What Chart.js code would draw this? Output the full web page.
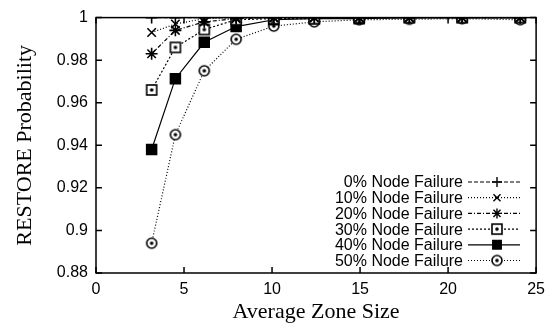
<!DOCTYPE html>
<html>
<head>
<meta charset="utf-8">
<script src="https://cdn.jsdelivr.net/npm/chart.js@4/dist/chart.umd.min.js"></script>
<style>
  html, body { margin: 0; padding: 0; background: #fff; }
  #wrap { width: 552px; height: 329px; }
</style>
</head>
<body>
<div id="wrap"><canvas id="restoreChart"></canvas></div>
<script>
'use strict'

// data
const zoneSizes = [3.16, 4.51, 6.15, 7.96, 10.1, 12.4, 14.95, 17.8, 20.8, 24.1];
const fail0  = [1, 1, 1, 1, 1, 1, 1, 1, 1, 1];
const fail10 = [0.993, 0.997, 0.9995, 1, 1, 1, 1, 1, 1, 1];
const fail20 = [0.983, 0.994, 0.998, 0.9995, 1, 1, 1, 1, 1, 1];
const fail30 = [0.966, 0.986, 0.9944, 0.999, 0.9995, 0.9995, 1, 1, 1, 1];
const fail40 = [0.938, 0.9713, 0.9884, 0.9958, 0.999, 0.9995, 0.9995, 1, 1, 1];
const fail50 = [0.894, 0.945, 0.975, 0.9898, 0.996, 0.998, 0.999, 0.9992, 0.9995, 0.999];
const seriesLabels = ['0% Node Failure', '10% Node Failure', '20% Node Failure',
                      '30% Node Failure', '40% Node Failure', '50% Node Failure'];
const xTicks = [0, 5, 10, 15, 20, 25];
const yTicks = [0.88, 0.9, 0.92, 0.94, 0.96, 0.98, 1];

// marker images for the gnuplot "box with dot" and "circle with dot"
function makeMarker(kind) {
  const c = document.createElement('canvas');
  c.width = 14; c.height = 14;
  const g = c.getContext('2d');
  g.strokeStyle = '#000';
  g.lineWidth = 1.6;
  g.fillStyle = '#fff';
  if (kind === 'box') {
    g.fillRect(2, 2, 10, 10);
    g.strokeRect(2, 2, 10, 10);
  } else {
    g.beginPath(); g.arc(7, 7, 5, 0, Math.PI * 2); g.fill(); g.stroke();
  }
  g.fillStyle = '#000';
  g.beginPath(); g.arc(7, 7, 1.8, 0, Math.PI * 2); g.fill();
  return c;
}
const boxDot = makeMarker('box');
const circleDot = makeMarker('circle');

function pts(ys) {
  return zoneSizes.map((x, i) => ({ x: x, y: ys[i] }));
}

const styles = [
  { pointStyle: 'cross',    radius: 6, dash: [4, 2],       fill: '#000' },
  { pointStyle: 'crossRot', radius: 6, dash: [1, 2],       fill: '#000' },
  { pointStyle: 'star',     radius: 6, dash: [4, 2, 1, 2], fill: '#000' },
  { pointStyle: boxDot,     radius: 7, dash: [2, 2],       fill: '#fff' },
  { pointStyle: 'rect',     radius: 7, dash: [],           fill: '#000' },
  { pointStyle: circleDot,  radius: 7, dash: [1, 2],       fill: '#fff' }
];
const allSeries = [fail0, fail10, fail20, fail30, fail40, fail50];

const datasets = allSeries.map((ys, i) => ({
  label: seriesLabels[i],
  data: pts(ys),
  borderColor: '#000',
  backgroundColor: styles[i].fill,
  borderWidth: 1.2,
  borderDash: styles[i].dash,
  pointStyle: styles[i].pointStyle,
  pointRadius: styles[i].radius,
  pointBorderWidth: 1.6,
  pointBorderColor: '#000',
  pointBackgroundColor: styles[i].fill,
  tension: 0
}));

// box, inward ticks on all four sides
const frameTicks = {
  id: 'frameTicks',
  afterDatasetsDraw(chart) {
    const { ctx, chartArea: a, scales } = chart;
    const len = 6;
    ctx.save();
    ctx.strokeStyle = '#000';
    ctx.lineWidth = 1.5;
    ctx.setLineDash([]);
    ctx.strokeRect(a.left, a.top, a.right - a.left, a.bottom - a.top);
    ctx.beginPath();
    xTicks.forEach(v => {
      const px = scales.x.getPixelForValue(v);
      ctx.moveTo(px, a.bottom); ctx.lineTo(px, a.bottom - len);
      ctx.moveTo(px, a.top); ctx.lineTo(px, a.top + len);
    });
    yTicks.forEach(v => {
      const py = scales.y.getPixelForValue(v);
      ctx.moveTo(a.left, py); ctx.lineTo(a.left + len, py);
      ctx.moveTo(a.right, py); ctx.lineTo(a.right - len, py);
    });
    ctx.stroke();
    ctx.restore();
  }
};

// gnuplot-like key: text on the left, sample on the right
const keyBox = {
  id: 'keyBox',
  afterDraw(chart) {
    const ctx = chart.ctx;
    ctx.save();
    ctx.font = '16px "Liberation Sans", Arial, sans-serif';
    ctx.textAlign = 'right';
    ctx.textBaseline = 'middle';
    chart.data.datasets.forEach((ds, i) => {
      const y = 182 + i * 15.7;
      ctx.fillStyle = '#000';
      ctx.fillText(ds.label, 463, y + 1);
      ctx.strokeStyle = '#000';
      ctx.lineWidth = 1.2;
      ctx.setLineDash(ds.borderDash);
      ctx.beginPath(); ctx.moveTo(468, y); ctx.lineTo(520, y); ctx.stroke();
      ctx.setLineDash([]);
      ctx.fillStyle = ds.pointBackgroundColor;
      ctx.lineWidth = 1.4;
      Chart.helpers.drawPoint(ctx, {
        pointStyle: ds.pointStyle, radius: ds.pointRadius - 1, rotation: 0, borderWidth: 1.4
      }, 497, y);
    });
    ctx.restore();
  }
};

const tickFont = { family: '"Liberation Sans", Arial, sans-serif', size: 16 };
const titleFont = { family: '"Liberation Serif", "Times New Roman", serif', size: 22 };

new Chart(document.getElementById('restoreChart'), {
  type: 'line',
  data: { datasets: datasets },
  options: {
    responsive: true,
    maintainAspectRatio: false,
    animation: false,
    layout: { padding: { top: 14, right: 13, left: 0, bottom: 0 } },
    plugins: {
      legend: { display: false },
      tooltip: { enabled: false }
    },
    scales: {
      x: {
        type: 'linear',
        min: 0, max: 25,
        afterBuildTicks: s => { s.ticks = xTicks.map(v => ({ value: v })); },
        afterFit: s => { s.height = 56; },
        grid: { display: false, drawTicks: false },
        border: { display: false },
        ticks: { color: '#000', font: tickFont, padding: 7, maxRotation: 0 },
        title: { display: true, text: 'Average Zone Size', color: '#000', font: titleFont, padding: { top: 0 } }
      },
      y: {
        type: 'linear',
        min: 0.88, max: 1,
        afterBuildTicks: s => { s.ticks = yTicks.map(v => ({ value: v })); },
        afterFit: s => { s.width = 96; },
        grid: { display: false, drawTicks: false },
        border: { display: false },
        ticks: {
          color: '#000', font: tickFont, padding: 8,
          callback: v => String(Math.round(v * 100) / 100)
        },
        title: { display: true, text: 'RESTORE Probability', color: '#000', font: titleFont, padding: { top: 12, bottom: 0 } }
      }
    }
  },
  plugins: [frameTicks, keyBox]
});
</script>
</body>
</html>
